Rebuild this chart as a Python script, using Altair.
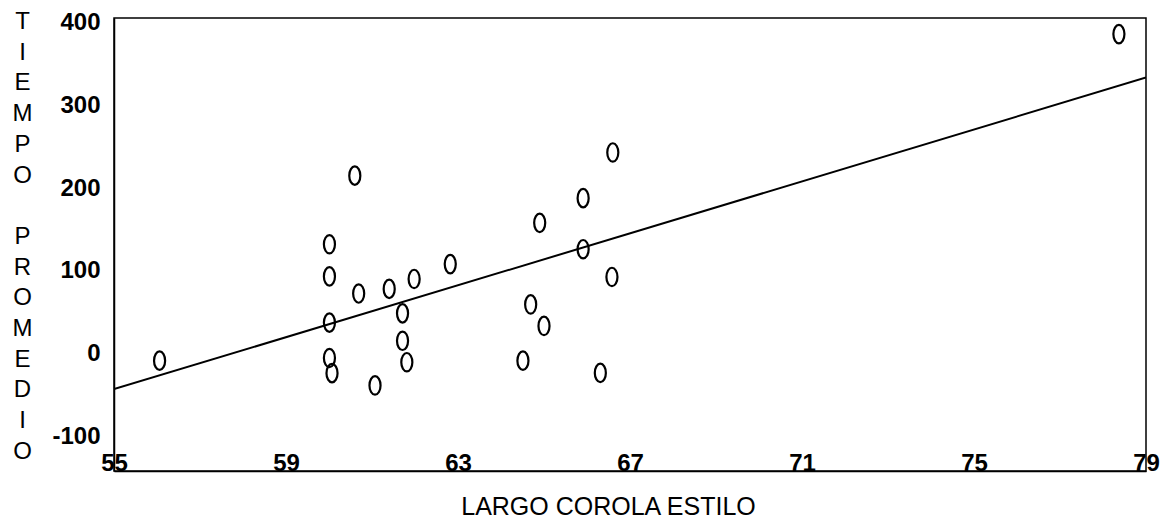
import altair as alt
import pandas as pd

# data
largo = [56.06, 60.01, 60.01, 60.01, 60.01, 60.07, 60.60, 60.69, 61.07, 61.40,
         61.71, 61.71, 61.81, 61.98, 62.82, 64.51, 64.69, 64.90, 65.00, 65.91,
         65.91, 66.31, 66.60, 66.58, 78.37]
tiempo = [-8.5, 132.3, 93.4, 37.5, -5.3, -23.6, 215.3, 72.7, -38.5, 78.3,
          48.7, 15.5, -10.4, 90.3, 108.3, -8.5, 59.5, 158.2, 33.5, 188.1,
          126.3, -23.3, 243.3, 92.7, 386.5]
fit_x = [55, 79]
fit_y = [-43, 334]
x_ticks = [55, 59, 63, 67, 71, 75, 79]
y_ticks = [-100, 0, 100, 200, 300, 400]
y_title = ["T", "I", "E", "M", "P", "O", "\u2800", "P", "R", "O", "M", "E", "D", "I", "O"]

pts = pd.DataFrame({"x": largo, "y": tiempo})
fit = pd.DataFrame({"x": fit_x, "y": fit_y})

FONT = "Liberation Sans"

xscale = alt.Scale(domain=[55, 79], nice=False, zero=False)
yscale = alt.Scale(domain=[-142, 406], nice=False, zero=False)

xaxis = alt.Axis(values=x_ticks, title="LARGO COROLA ESTILO", grid=False, ticks=False, tickSize=0,
                 labelFont=FONT, labelFontSize=24, labelFontWeight="bold", labelColor="black",
                 labelBaseline="alphabetic", labelPadding=-1, labelFlush=False, labelOverlap=False,
                 domainColor="black", domainWidth=1.5,
                 titleFont=FONT, titleFontSize=25, titleFontWeight="normal", titleColor="black",
                 titleX=494, titleY=35, titleBaseline="middle", titleAlign="center")
yaxis = alt.Axis(values=y_ticks, title=y_title, grid=False, ticks=False, tickSize=0,
                 labelFont=FONT, labelFontSize=24, labelFontWeight="bold", labelColor="black",
                 labelPadding=14, labelOverlap=False, labelFlush=False,
                 labelExpr="(datum.value < 0 ? '-' : '') + abs(datum.value)",
                 domainColor="black", domainWidth=1.5,
                 titleFont=FONT, titleFontSize=24, titleFontWeight="normal", titleColor="black",
                 titleAngle=0, titleAlign="center", titleBaseline="middle",
                 titleLineHeight=30.7, titleX=-92, titleY=3.5)

ellipse = "M0,-1A0.6,1,0,1,1,0,1A0.6,1,0,1,1,0,-1Z"

points = alt.Chart(pts).mark_point(shape=ellipse, size=340, filled=False,
                                   stroke="black", strokeWidth=2.2, opacity=1).encode(
    x=alt.X("x:Q", scale=xscale, axis=xaxis),
    y=alt.Y("y:Q", scale=yscale, axis=yaxis),
)

line = alt.Chart(fit).mark_line(color="black", strokeWidth=2, clip=True).encode(
    x=alt.X("x:Q", scale=xscale),
    y=alt.Y("y:Q", scale=yscale),
)

chart = alt.layer(line, points).properties(
    width=1032, height=453,
    autosize=alt.AutoSizeParams(type="none"),
    padding={"left": 106, "top": 10, "right": 14, "bottom": 49},
    background="white",
).configure_view(stroke="black", strokeWidth=1.5)

chart.save("out.html", embed_options={"renderer": "svg", "actions": False})
